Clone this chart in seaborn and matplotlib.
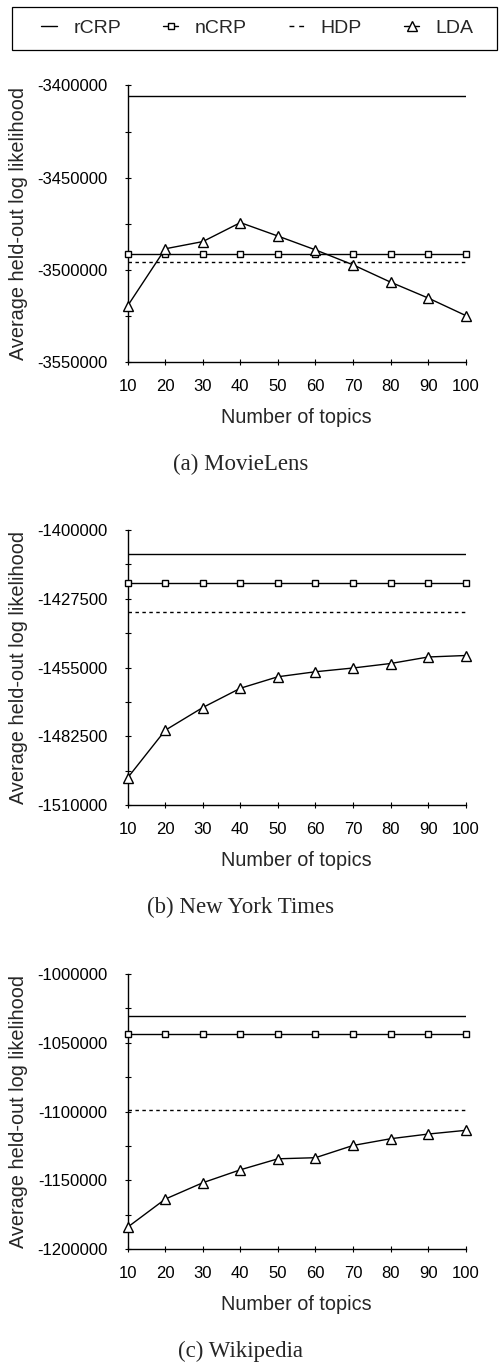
import seaborn as sns
import matplotlib.pyplot as plt
import numpy as np
import pandas as pd
from matplotlib.lines import Line2D
from matplotlib.patches import Rectangle
from matplotlib.ticker import MultipleLocator, AutoMinorLocator

topics = [10, 20, 30, 40, 50, 60, 70, 80, 90, 100]

# (a) MovieLens
movielens_rcrp = -3405500
movielens_ncrp = [-3491500, -3491500, -3491500, -3491500, -3491500,
                  -3491500, -3491500, -3491500, -3491500, -3491500]
movielens_hdp = -3496000
movielens_lda = [-3519500, -3488600, -3484700, -3474400, -3481700,
                 -3489200, -3497300, -3506700, -3515300, -3524800]

# (b) New York Times
nyt_rcrp = -1409600
nyt_ncrp = [-1421300, -1421300, -1421300, -1421300, -1421300,
            -1421300, -1421300, -1421300, -1421300, -1421300]
nyt_hdp = -1432600
nyt_lda = [-1499100, -1480100, -1471000, -1463300, -1458700,
           -1456700, -1455200, -1453400, -1450800, -1450200]

# (c) Wikipedia
wiki_rcrp = -1030800
wiki_ncrp = [-1043700, -1043700, -1043700, -1043700, -1043700,
             -1043700, -1043700, -1043700, -1043700, -1043700]
wiki_hdp = -1099000
wiki_lda = [-1184100, -1163700, -1151800, -1142400, -1134400,
            -1133600, -1124700, -1119800, -1116400, -1113700]

panels = [
    ('(a) MovieLens', movielens_rcrp, movielens_ncrp, movielens_hdp, movielens_lda,
     (-3550000, -3400000), 50000),
    ('(b) New York Times', nyt_rcrp, nyt_ncrp, nyt_hdp, nyt_lda,
     (-1510000, -1400000), 27500),
    ('(c) Wikipedia', wiki_rcrp, wiki_ncrp, wiki_hdp, wiki_lda,
     (-1200000, -1000000), 50000),
]

sns.set_style('ticks')
plt.rcParams['font.family'] = ['Liberation Sans', 'DejaVu Sans']

W, H = 500, 1362
fig = plt.figure(figsize=(W / 100, H / 100), dpi=100)

# axes boxes in pixels: (top, bottom)
boxes = [(85.4, 362.0), (530.0, 805.0), (974.0, 1249.0)]
ax_left, ax_right = 127.7, 465.7

line_kw = dict(color='black', linewidth=1.0)
hdp_dash = (2.5, 2.5)

for (caption, rcrp, ncrp, hdp, lda, ylim, step), (top, bottom) in zip(panels, boxes):
    ax = fig.add_axes([ax_left / W, 1 - bottom / H, (ax_right - ax_left) / W, (bottom - top) / H])

    df = pd.DataFrame({
        'topics': topics,
        'rCRP': [rcrp] * len(topics),
        'nCRP': ncrp,
        'HDP': [hdp] * len(topics),
        'LDA': lda,
    })

    sns.lineplot(data=df, x='topics', y='rCRP', ax=ax, **line_kw)
    sns.lineplot(data=df, x='topics', y='HDP', ax=ax, **line_kw)
    ax.lines[-1].set_dashes(hdp_dash)
    sns.lineplot(data=df, x='topics', y='nCRP', ax=ax, marker='s', markersize=5,
                 markerfacecolor='white', markeredgecolor='black', markeredgewidth=1,
                 clip_on=False, zorder=3, **line_kw)
    sns.lineplot(data=df, x='topics', y='LDA', ax=ax, marker='^', markersize=6.5,
                 markerfacecolor='white', markeredgecolor='black', markeredgewidth=1,
                 clip_on=False, zorder=4, **line_kw)

    ax.set_xlim(10, 100)
    ax.set_ylim(*ylim)
    ax.xaxis.set_major_locator(MultipleLocator(10))
    ax.set_yticks(np.arange(ylim[0], ylim[1] + 1, step))
    ax.yaxis.set_minor_locator(AutoMinorLocator(2))
    ax.yaxis.set_major_formatter(lambda v, p: f'{int(round(v))}')

    sns.despine(ax=ax)
    for s in ['left', 'bottom']:
        ax.spines[s].set_linewidth(1.0)
        ax.spines[s].set_color('black')

    ax.tick_params(axis='both', which='major', direction='inout', length=5,
                   width=0.8, color='black', labelsize=12, labelcolor='black')
    ax.tick_params(axis='x', which='major', pad=10)
    ax.tick_params(axis='y', which='major', pad=12)
    ax.tick_params(axis='y', which='minor', direction='inout', length=4, width=0.8, color='black')

    ax.set_xlabel('Number of topics', fontsize=14.3, labelpad=10)
    ax.set_ylabel('Average held-out log likelihood', fontsize=14.3)
    ax.yaxis.set_label_coords((28 - ax_left) / (ax_right - ax_left), 0.5)

    fig.text(241 / W, 1 - (bottom + 102.7) / H, caption, ha='center', va='center',
             fontsize=16.5, family=['Liberation Serif', 'DejaVu Serif'])

# legend frame and entries
fig.add_artist(Rectangle((12 / W, 1 - 50 / H), 485 / W, 43 / H, transform=fig.transFigure,
                         fill=False, edgecolor='black', linewidth=0.9))

handles = [
    Line2D([], [], color='black', lw=1.0),
    Line2D([], [], color='black', lw=1.0, marker='s', markersize=5,
           markerfacecolor='white', markeredgecolor='black'),
    Line2D([], [], color='black', lw=1.0, dashes=(3.5, 3.5)),
    Line2D([], [], color='black', lw=1.0, marker='^', markersize=6.5,
           markerfacecolor='white', markeredgecolor='black'),
]
fig.legend(handles, ['rCRP', 'nCRP', 'HDP', 'LDA'], loc='center',
           bbox_to_anchor=(257.5 / W, 1 - 28.5 / H), ncol=4, frameon=False,
           fontsize=14, handlelength=0.8, handletextpad=0.85, columnspacing=2.15)

fig.savefig('out.png', dpi=100)
